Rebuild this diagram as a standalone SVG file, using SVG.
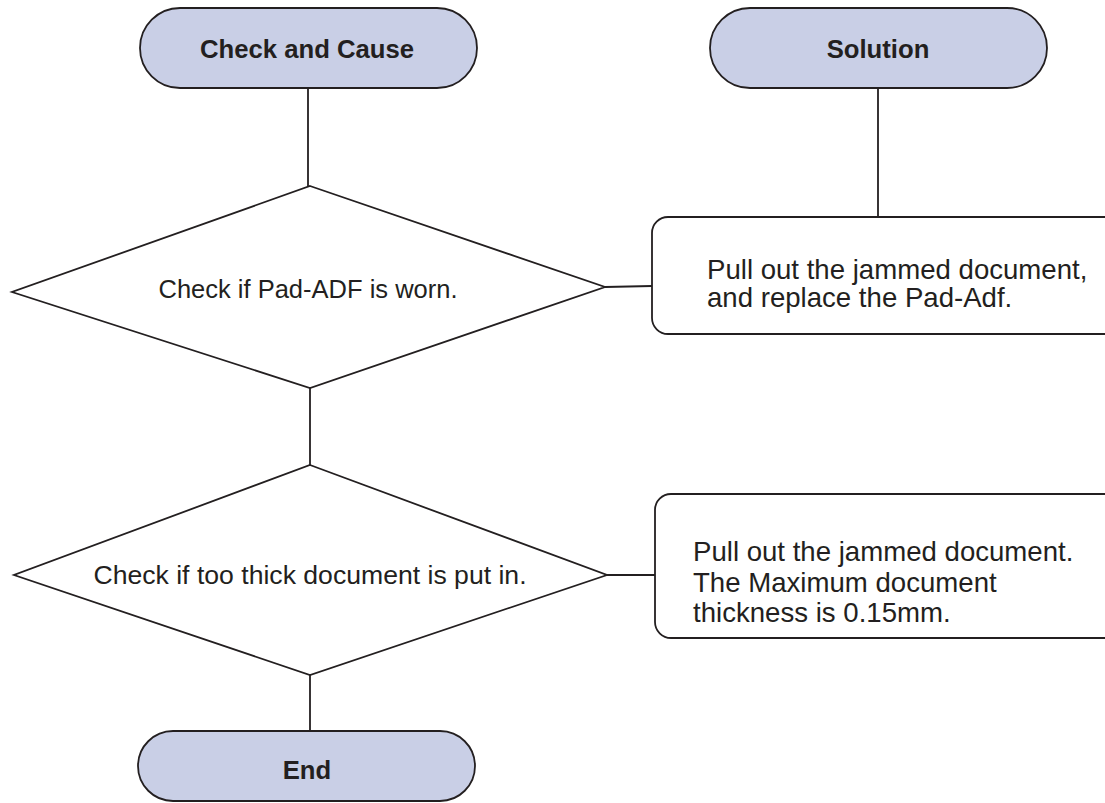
<svg xmlns="http://www.w3.org/2000/svg" width="1105" height="803" viewBox="0 0 1105 803">
<style>
.pill{fill:#c9cfe6;stroke:#231f20;stroke-width:1.8}
.shape{fill:#ffffff;stroke:#231f20;stroke-width:1.8}
.conn{stroke:#231f20;stroke-width:1.8;fill:none}
.title{font-family:"Liberation Sans",Arial,sans-serif;font-weight:bold;font-size:25.7px;fill:#231f20;text-anchor:middle}
.lbl{font-family:"Liberation Sans",Arial,sans-serif;font-size:25.5px;fill:#231f20}
.box{font-family:"Liberation Sans",Arial,sans-serif;font-size:27.6px;fill:#231f20}
</style>
<rect width="1105" height="803" fill="#ffffff"/>
<g id="connectors">
<line class="conn" x1="308" y1="88" x2="308" y2="186"/>
<line class="conn" x1="878" y1="88" x2="878" y2="217"/>
<line class="conn" x1="605" y1="287" x2="652" y2="286"/>
<line class="conn" x1="310" y1="388" x2="310" y2="465"/>
<line class="conn" x1="607" y1="575" x2="655" y2="575"/>
<line class="conn" x1="310" y1="675" x2="310" y2="732"/>
</g>
<g id="check-and-cause">
<rect class="pill" x="140" y="8" width="337" height="80" rx="40" ry="40"/>
<text class="title" x="307" y="58">Check and Cause</text>
</g>
<g id="solution">
<rect class="pill" x="710" y="8" width="337" height="80" rx="40" ry="40"/>
<text class="title" x="878" y="58">Solution</text>
</g>
<g id="decision-pad">
<polygon class="shape" points="310,186 605,287 310,388 12,292"/>
<text class="lbl" x="308" y="298" text-anchor="middle">Check if Pad-ADF is worn.</text>
</g>
<g id="solution-pad">
<rect class="shape" x="652" y="217" width="470" height="117" rx="16" ry="16"/>
<text class="box" x="707" y="279">Pull out the jammed document,</text>
<text class="box" x="707" y="307">and replace the Pad-Adf.</text>
</g>
<g id="decision-thick">
<polygon class="shape" points="310,465 607,575 310,675 14,575"/>
<text class="lbl" x="310" y="584" text-anchor="middle" style="font-size:26.6px">Check if too thick document is put in.</text>
</g>
<g id="solution-thick">
<rect class="shape" x="655" y="494" width="470" height="144" rx="16" ry="16"/>
<text class="box" x="693" y="561">Pull out the jammed document.</text>
<text class="box" x="693" y="592">The Maximum document</text>
<text class="box" x="693" y="622">thickness is 0.15mm.</text>
</g>
<g id="end">
<rect class="pill" x="138" y="731" width="337" height="70" rx="35" ry="35"/>
<text class="title" x="307" y="779">End</text>
</g>
</svg>
